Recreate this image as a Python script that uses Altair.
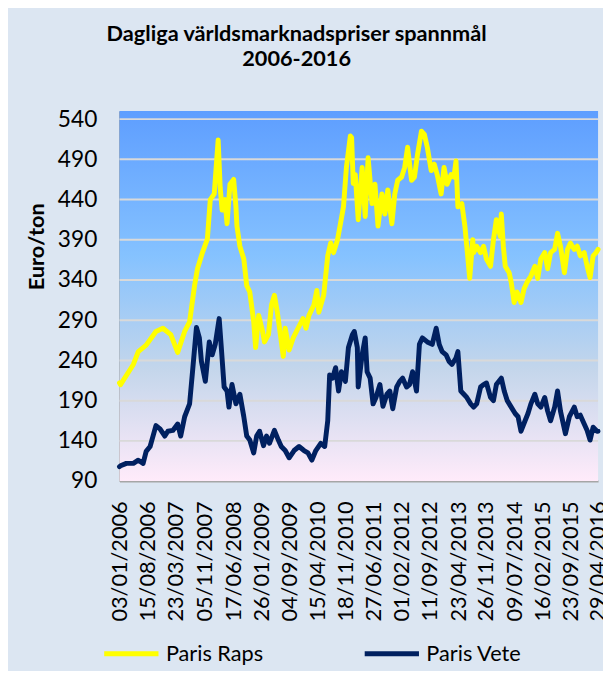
import altair as alt
import pandas as pd

raps_dates = [
    "2006-01-03", "2006-01-11", "2006-04-22", "2006-05-31", "2006-08-01", "2006-10-17", "2006-12-11",
    "2007-02-11", "2007-04-06", "2007-05-31", "2007-07-09", "2007-08-17", "2007-09-09", "2007-10-18",
    "2007-11-26", "2007-12-19", "2008-01-19", "2008-02-19", "2008-03-06", "2008-03-21", "2008-04-13",
    "2008-04-29", "2008-05-22", "2008-06-20", "2008-07-08", "2008-07-16", "2008-08-08", "2008-09-08",
    "2008-10-01", "2008-10-25", "2008-11-25", "2008-12-10", "2009-01-03", "2009-02-03", "2009-02-18",
    "2009-03-21", "2009-04-14", "2009-05-07", "2009-05-30", "2009-06-23", "2009-07-16", "2009-07-31",
    "2009-08-31", "2009-10-02", "2009-11-09", "2009-12-18", "2010-01-11", "2010-02-03", "2010-03-14",
    "2010-04-06", "2010-04-22", "2010-05-30", "2010-07-01", "2010-07-24", "2010-08-16", "2010-09-16",
    "2010-10-09", "2010-11-02", "2010-11-25", "2010-12-26", "2011-01-05", "2011-01-18", "2011-02-03",
    "2011-02-26", "2011-03-29", "2011-04-22", "2011-05-15", "2011-06-15", "2011-07-08", "2011-08-01",
    "2011-09-01", "2011-09-24", "2011-10-17", "2011-11-18", "2011-12-11", "2012-01-03", "2012-02-03",
    "2012-02-27", "2012-03-21", "2012-04-21", "2012-05-14", "2012-06-07", "2012-07-08", "2012-07-31",
    "2012-08-23", "2012-09-23", "2012-10-17", "2012-11-09", "2012-12-10", "2013-01-02", "2013-01-26",
    "2013-02-26", "2013-03-21", "2013-04-06", "2013-04-21", "2013-05-22", "2013-06-15", "2013-06-30",
    "2013-07-23", "2013-08-16", "2013-08-23", "2013-09-16", "2013-10-17", "2013-11-09", "2013-12-02",
    "2014-01-03", "2014-01-26", "2014-02-18", "2014-03-21", "2014-03-29", "2014-04-14", "2014-04-29",
    "2014-05-30", "2014-06-15", "2014-07-08", "2014-07-31", "2014-08-31", "2014-09-24", "2014-10-17",
    "2014-11-17", "2014-12-18", "2015-01-10", "2015-02-03", "2015-03-06", "2015-03-29", "2015-04-21",
    "2015-05-23", "2015-06-15", "2015-07-08", "2015-08-08", "2015-09-01", "2015-09-24", "2015-10-25",
    "2015-11-17", "2015-12-11", "2016-01-11", "2016-02-03", "2016-02-26", "2016-03-21", "2016-04-13",
    "2016-04-29",
]
raps_values = [
    212, 210, 235, 251, 259, 276, 280,
    272, 250, 276, 288, 333, 354, 374,
    391, 440, 447, 514, 455, 427, 440,
    410, 459, 465, 431, 407, 382, 366,
    333, 325, 288, 256, 296, 276, 263,
    272, 309, 321, 300, 272, 245, 280,
    253, 268, 280, 292, 280, 296, 309,
    327, 300, 321, 370, 386, 374, 390,
    410, 431, 480, 519, 517, 460, 471,
    415, 480, 419, 492, 435, 459, 407,
    447, 422, 452, 410, 447, 464, 468,
    480, 505, 464, 468, 496, 525, 521,
    505, 476, 484, 471, 447, 480, 459,
    471, 468, 488, 431, 435, 407, 382,
    342, 390, 374, 382, 374, 382, 366,
    357, 390, 415, 394, 422, 382, 357,
    349, 337, 312, 325, 312, 329, 337,
    345, 357, 342, 366, 374, 354, 374,
    378, 398, 382, 349, 378, 386, 378,
    382, 370, 374, 357, 343, 370, 374,
    378,
]

vete_dates = [
    "2006-01-03", "2006-01-11", "2006-02-26", "2006-04-22", "2006-05-31", "2006-07-08", "2006-08-01",
    "2006-09-01", "2006-09-24", "2006-10-17", "2006-11-18", "2006-12-26", "2007-01-19", "2007-02-27",
    "2007-04-06", "2007-04-30", "2007-05-31", "2007-07-09", "2007-08-01", "2007-09-01", "2007-09-24",
    "2007-10-10", "2007-11-10", "2007-12-11", "2008-01-03", "2008-01-27", "2008-02-27", "2008-03-13",
    "2008-04-06", "2008-04-29", "2008-05-14", "2008-06-07", "2008-07-08", "2008-08-08", "2008-09-08",
    "2008-10-01", "2008-10-25", "2008-11-25", "2008-12-18", "2009-01-10", "2009-02-10", "2009-03-06",
    "2009-03-29", "2009-05-07", "2009-06-07", "2009-06-30", "2009-07-31", "2009-08-31", "2009-10-09",
    "2009-11-17", "2009-12-26", "2010-01-26", "2010-02-26", "2010-03-29", "2010-05-07", "2010-06-07",
    "2010-07-01", "2010-07-16", "2010-08-08", "2010-09-01", "2010-09-24", "2010-10-17", "2010-11-17",
    "2010-12-11", "2011-01-11", "2011-01-26", "2011-02-19", "2011-02-26", "2011-03-29", "2011-04-22",
    "2011-05-07", "2011-05-31", "2011-06-23", "2011-07-16", "2011-08-16", "2011-09-09", "2011-10-10",
    "2011-11-02", "2011-11-25", "2011-12-26", "2012-01-19", "2012-02-11", "2012-03-13", "2012-04-05",
    "2012-04-29", "2012-05-30", "2012-06-22", "2012-07-15", "2012-08-23", "2012-10-01", "2012-11-01",
    "2012-11-25", "2012-12-18", "2013-01-18", "2013-02-10", "2013-03-05", "2013-04-06", "2013-04-21",
    "2013-05-14", "2013-06-07", "2013-06-30", "2013-07-31", "2013-08-23", "2013-09-16", "2013-10-17",
    "2013-11-09", "2013-12-02", "2014-01-03", "2014-01-26", "2014-02-18", "2014-03-29", "2014-04-21",
    "2014-05-15", "2014-06-15", "2014-07-16", "2014-08-08", "2014-08-31", "2014-10-02", "2014-10-25",
    "2014-11-17", "2014-12-18", "2015-01-10", "2015-02-03", "2015-03-06", "2015-03-29", "2015-04-21",
    "2015-05-23", "2015-06-15", "2015-07-08", "2015-08-16", "2015-09-16", "2015-10-25", "2015-11-17",
    "2015-12-11", "2016-01-11", "2016-02-03", "2016-02-26", "2016-03-21", "2016-04-21", "2016-04-29",
]
vete_values = [
    108, 109, 112, 112, 116, 112, 127,
    133, 146, 159, 155, 146, 152, 153,
    161, 146, 170, 186, 226, 281, 268,
    239, 214, 263, 247, 260, 292, 260,
    207, 202, 182, 210, 186, 198, 170,
    146, 141, 125, 146, 152, 134, 146,
    137, 153, 141, 133, 128, 119, 128,
    133, 128, 125, 116, 128, 137, 133,
    165, 222, 218, 231, 202, 226, 214,
    256, 272, 276, 256, 207, 247, 268,
    226, 218, 186, 194, 210, 183, 198,
    202, 180, 207, 214, 218, 207, 210,
    226, 202, 260, 268, 263, 260, 280,
    260, 251, 247, 239, 235, 243, 251,
    202, 198, 194, 186, 182, 186, 207,
    210, 212, 194, 190, 210, 218, 202,
    190, 182, 174, 170, 152, 165, 174,
    186, 198, 186, 182, 194, 177, 165,
    182, 202, 177, 149, 170, 182, 170,
    172, 161, 153, 141, 157, 152, 152,
]

series_names = ["Paris Raps", "Paris Vete"]
series_colors = ["#ffff00", "#002060"]

x_label_dates = [
    "2006-01-03", "2006-08-15", "2007-03-23", "2007-11-05", "2008-06-17", "2009-01-26",
    "2009-09-04", "2010-04-15", "2010-11-18", "2011-06-27", "2012-02-01", "2012-09-11",
    "2013-04-23", "2013-11-26", "2014-07-09", "2015-02-16", "2015-09-23", "2016-04-29",
]
y_ticks = [90, 140, 190, 240, 290, 340, 390, 440, 490, 540]
grid_values = [140, 190, 240, 290, 340, 390, 440, 490, 540]

title_lines = ["Dagliga världsmarknadspriser spannmål", "2006-2016"]
y_title = "Euro/ton"


def to_dt(s):
    y, m, d = (int(p) for p in s.split("-"))
    return alt.DateTime(year=y, month=m, date=d, utc=True)


df = pd.concat([
    pd.DataFrame({"date": raps_dates, "value": raps_values, "series": series_names[0]}),
    pd.DataFrame({"date": vete_dates, "value": vete_values, "series": series_names[1]}),
])
grid_df = pd.DataFrame({"value": grid_values})

FONT = "Lato"

y_scale = alt.Scale(domain=[90, 550], nice=False, zero=False)
y_axis = alt.Axis(
    values=y_ticks, grid=False, ticks=False, labelFont=FONT, labelFontSize=23,
    labelColor="black", labelPadding=23, domainColor="#a6a6a6", domainWidth=2,
    title=y_title, titleFont=FONT, titleFontSize=22, titleFontWeight="bold",
    titleColor="black", titleX=-84, titleY=137, titleAngle=270,
    titleAlign="center", titleBaseline="middle",
)
x_axis = alt.Axis(
    values=[to_dt(s) for s in x_label_dates],
    labelExpr="utcFormat(datum.value, '%d/%m/%Y')",
    labelAngle=270, labelAlign="right", labelBaseline="middle", labelFont=FONT,
    labelFontSize=22, labelColor="black", labelPadding=20, ticks=False, grid=False,
    domainColor="#a6a6a6", domainWidth=2, labelOverlap=False, labelFlush=False,
    title=None,
)
x_scale = alt.Scale(type="utc", domain=[to_dt(x_label_dates[0]), to_dt(x_label_dates[-1])], nice=False)

gradient = alt.Gradient(
    gradient="linear",
    stops=[
        alt.GradientStop(offset=0, color="#5E9EFF"),
        alt.GradientStop(offset=0.39, color="#85C2FF"),
        alt.GradientStop(offset=0.70, color="#C4D6EB"),
        alt.GradientStop(offset=1, color="#FFEBFA"),
    ],
    x1=0, x2=0, y1=0, y2=1,
)

bg = alt.Chart(alt.Data(values=[{}])).mark_rect(fill=gradient).encode(
    x=alt.value(0), x2=alt.value("width"), y=alt.value(0), y2=alt.value("height")
)

grid = alt.Chart(grid_df).mark_rule(color="#d9d9d9", strokeWidth=2).encode(
    y=alt.Y("value:Q", scale=y_scale, axis=y_axis)
)

lines = alt.Chart(df).mark_line(strokeWidth=5, strokeJoin="round", strokeCap="round").encode(
    x=alt.X("date:T", scale=x_scale, axis=x_axis),
    y=alt.Y("value:Q", scale=y_scale, axis=y_axis),
    color=alt.Color(
        "series:N",
        scale=alt.Scale(domain=series_names, range=series_colors),
        legend=alt.Legend(
            orient="none", legendX=-18, legendY=520, direction="horizontal", title=None,
            symbolType="stroke", symbolSize=3025, symbolStrokeWidth=5, labelFont=FONT,
            labelFontSize=22, labelColor="black", columnPadding=92, labelOffset=5,
        ),
    ),
)

chart = alt.layer(bg, grid, lines).properties(
    width=485,
    height=375,
    padding={"left": 113, "top": 100, "right": 5, "bottom": 188},
    autosize=alt.AutoSizeParams(type="none"),
    background="#dce6f2",
    title=alt.TitleParams(
        text=title_lines, font=FONT, fontSize=22, fontWeight="bold", color="black",
        anchor="middle", dx=-63, offset=38, lineHeight=25,
    ),
).configure_view(stroke=None)

chart.save("out.html", embed_options={"renderer": "svg", "actions": False})
